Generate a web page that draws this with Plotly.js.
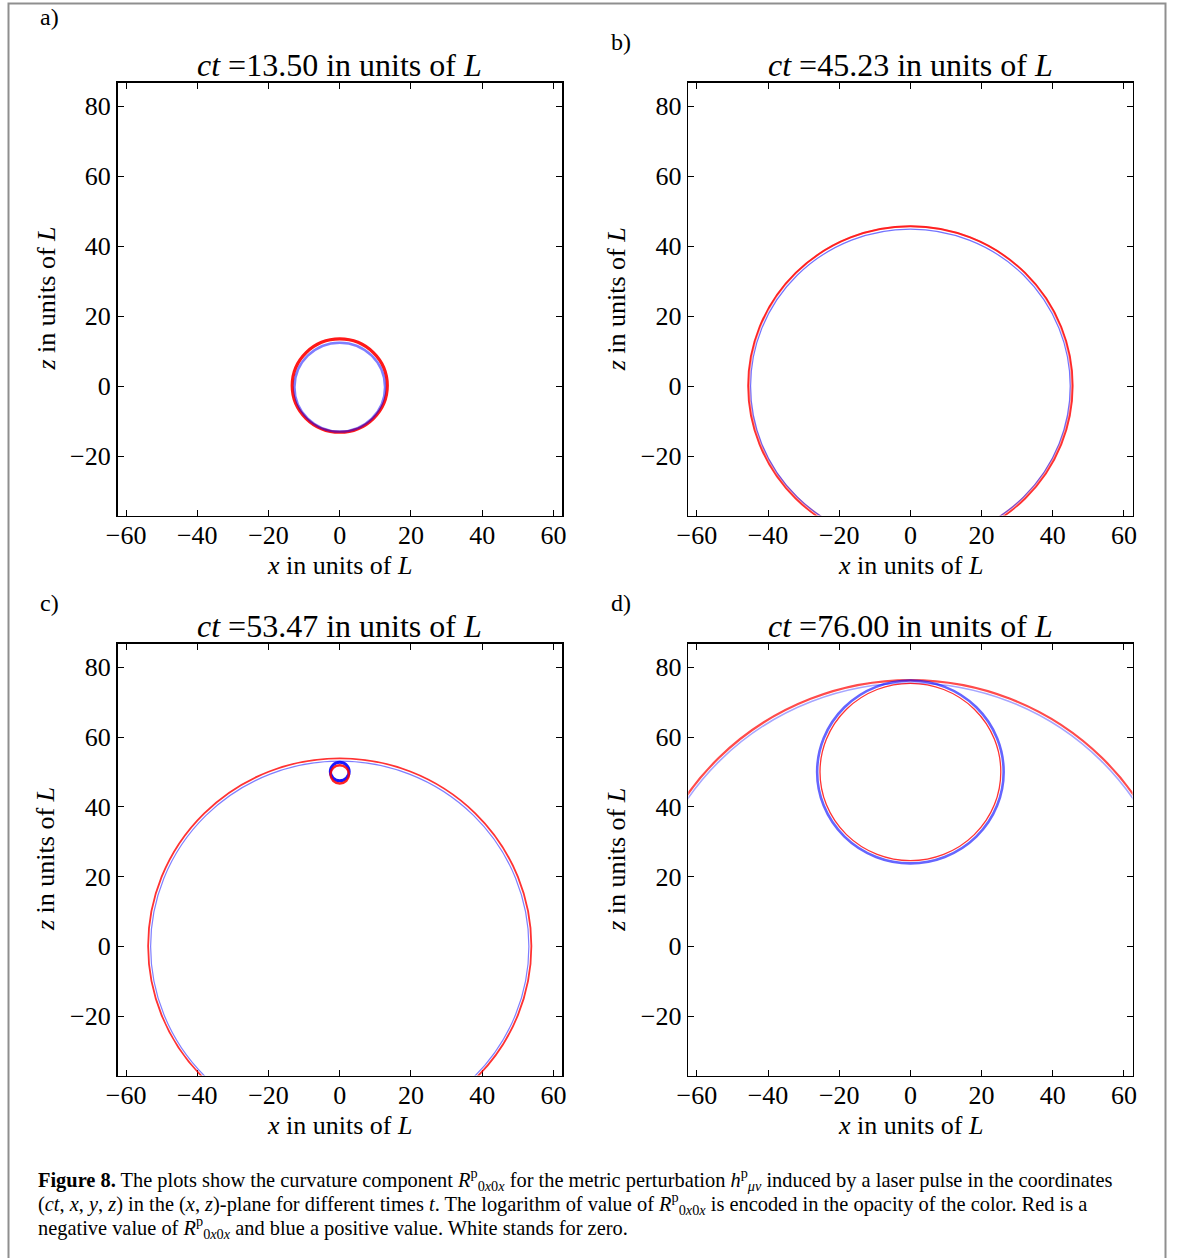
<!DOCTYPE html>
<html>
<head>
<meta charset="utf-8">
<script src="https://cdn.plot.ly/plotly-3.0.1.min.js"></script>
<style>
  html, body { margin: 0; padding: 0; background: #ffffff; }
  #chart { width: 1182px; height: 1258px; }
</style>
</head>
<body>
<div id="chart"></div>
<script>
// ---------------- data ----------------
const panelLabels = ['a)', 'b)', 'c)', 'd)'];
const ctValues = [13.50, 45.23, 53.47, 76.00];
const xTickVals = [-60, -40, -20, 0, 20, 40, 60];
const yTickVals = [-20, 0, 20, 40, 60, 80];
const xRange = [-62.4, 62.4];
const zRange = [-37.0, 86.8];

// wave fronts (rings): panel index, centre x, centre z, radius, sign
const ringPanel   = [0,     0,     1,     1,     1,     2,     2,     2,     2,     3,     3,     3,     3];
const ringCenterX = [0,     0,     0,     0,     0,     0,     0,     0,     0,     0,     0,     0,     0];
const ringCenterZ = [0.15, -0.3,   0.1,   0.45,  0.0,   0.1,   0.0,   50.1,  49.3,  0.1,   0.0,   50.0,  50.0];
const ringRadius  = [13.35, 12.7,  45.6,  45.3,  44.9,  53.8,  53.1,  2.65,  2.6,   76.2,  75.5,  26.2,  25.4];
const ringSign    = [-1,    1,     -1,    -1,    1,     -1,    1,     1,     -1,    -1,    1,     1,     -1];

// ---------------- styles ----------------
const ringOpacity = [0.9,  0.5,  0.8,  0.35, 0.55, 0.8,  0.5,  0.9,  0.85, 0.7,  0.35, 0.6,  0.8];
const ringWidth   = [3.2,  2.4,  1.8,  1.8,  1.2,  1.8,  1.2,  3.0,  2.4,  2.2,  1.6,  2.6,  1.3];

const W = 1182, H = 1258;
const px = v => v / W;
const py = v => 1 - v / H;

const colsX = [[117.5, 562.0], [688.3, 1132.5]];
const rowsY = [[82.5, 515.5], [643.5, 1075.5]];

const serif = 'Liberation Serif, Times New Roman, serif';

const layout = {
  width: W, height: H,
  margin: {l: 0, r: 0, t: 0, b: 0},
  paper_bgcolor: '#ffffff',
  plot_bgcolor: '#ffffff',
  showlegend: false,
  font: {family: serif, color: '#000000'},
  shapes: [],
  annotations: []
};

const data = [];

for (let p = 0; p < 4; p++) {
  const col = p % 2, row = Math.floor(p / 2);
  const sfx = p === 0 ? '' : String(p + 1);
  const xa = 'xaxis' + sfx, ya = 'yaxis' + sfx;
  const xr = 'x' + sfx, yr = 'y' + sfx;
  const common = {
    showgrid: false, zeroline: false, showline: true, linecolor: '#000000', linewidth: 1.6,
    mirror: 'allticks', ticks: 'inside', ticklen: 6, tickwidth: 1, tickcolor: '#000000',
    tickfont: {family: serif, size: 26, color: '#000000'}, fixedrange: true
  };
  layout[xa] = Object.assign({}, common, {
    domain: [px(colsX[col][0]), px(colsX[col][1])],
    range: xRange, anchor: yr, tickmode: 'array', tickvals: xTickVals,
    ticklabelstandoff: -4,
    ticktext: xTickVals.map(v => v < 0 ? '\u2212' + Math.abs(v) : String(v))
  });
  layout[ya] = Object.assign({}, common, {
    domain: [py(rowsY[row][1]), py(rowsY[row][0])],
    range: zRange, anchor: xr, tickmode: 'array', tickvals: yTickVals,
    ticktext: yTickVals.map(v => v < 0 ? '\u2212' + Math.abs(v) : String(v))
  });
  data.push({type: 'scatter', mode: 'markers', x: [], y: [], xaxis: xr, yaxis: yr, hoverinfo: 'skip'});

  const cx = (colsX[col][0] + colsX[col][1]) / 2;
  const cy = (rowsY[row][0] + rowsY[row][1]) / 2;
  // subplot title
  layout.annotations.push({
    xref: 'paper', yref: 'paper', x: px(cx), y: py(rowsY[row][0] - 18),
    xanchor: 'center', yanchor: 'middle', showarrow: false,
    text: '<i>ct</i> =' + ctValues[p].toFixed(2) + ' in units of <i>L</i>',
    font: {family: serif, size: 32, color: '#000000'}
  });
  // x axis title
  layout.annotations.push({
    xref: 'paper', yref: 'paper', x: px(cx), y: py(rowsY[row][1] + 50),
    xanchor: 'center', yanchor: 'middle', showarrow: false,
    text: '<i>x</i> in units of <i>L</i>',
    font: {family: serif, size: 26, color: '#000000'}
  });
  // y axis title
  layout.annotations.push({
    xref: 'paper', yref: 'paper', x: px(colsX[col][0] - 72), y: py(cy),
    xanchor: 'center', yanchor: 'middle', showarrow: false, textangle: -90,
    text: '<i>z</i> in units of <i>L</i>',
    font: {family: serif, size: 26, color: '#000000'}
  });
}

// panel labels
const labelPos = [[49, 17], [621, 42], [49, 603], [621, 603]];
panelLabels.forEach((t, i) => {
  layout.annotations.push({
    xref: 'paper', yref: 'paper', x: px(labelPos[i][0]), y: py(labelPos[i][1]),
    xanchor: 'center', yanchor: 'middle', showarrow: false, text: t,
    font: {family: serif, size: 24, color: '#000000'}
  });
});

// rings
for (let k = 0; k < ringRadius.length; k++) {
  const p = ringPanel[k];
  const sfx = p === 0 ? '' : String(p + 1);
  const color = ringSign[k] < 0 ? 'rgb(255,0,0)' : 'rgb(0,0,255)';
  layout.shapes.push({
    type: 'circle', xref: 'x' + sfx, yref: 'y' + sfx,
    x0: ringCenterX[k] - ringRadius[k], x1: ringCenterX[k] + ringRadius[k],
    y0: ringCenterZ[k] - ringRadius[k], y1: ringCenterZ[k] + ringRadius[k],
    line: {color: color, width: ringWidth[k]}, opacity: ringOpacity[k], layer: 'above'
  });
}

// figure border
layout.shapes.push({
  type: 'rect', xref: 'paper', yref: 'paper',
  x0: px(8.5), x1: px(1165.5), y0: py(1262), y1: py(3.5),
  line: {color: '#8f8f8f', width: 2}, fillcolor: 'rgba(0,0,0,0)', layer: 'below'
});

// caption
const R = '<i>R</i><sup>p</sup><sub>0<i>x</i>0<i>x</i></sub>';
const captionLines = [
  '<b>Figure 8.</b> The plots show the curvature component ' + R + ' for the metric perturbation <i>h</i><sup>p</sup><sub><i>μν</i></sub> induced by a laser pulse in the coordinates',
  '(<i>ct</i>, <i>x</i>, <i>y</i>, <i>z</i>) in the (<i>x</i>, <i>z</i>)-plane for different times <i>t</i>. The logarithm of value of ' + R + ' is encoded in the opacity of the color. Red is a',
  'negative value of ' + R + ' and blue a positive value. White stands for zero.'
];
const captionY = [1179, 1203, 1227];
captionLines.forEach((t, i) => {
  layout.annotations.push({
    xref: 'paper', yref: 'paper', x: px(36), y: py(captionY[i]),
    xanchor: 'left', yanchor: 'middle', showarrow: false, align: 'left', text: t,
    font: {family: serif, size: 20.4, color: '#000000'}
  });
});

Plotly.newPlot('chart', data, layout, {displayModeBar: false, staticPlot: true});
</script>
</body>
</html>
